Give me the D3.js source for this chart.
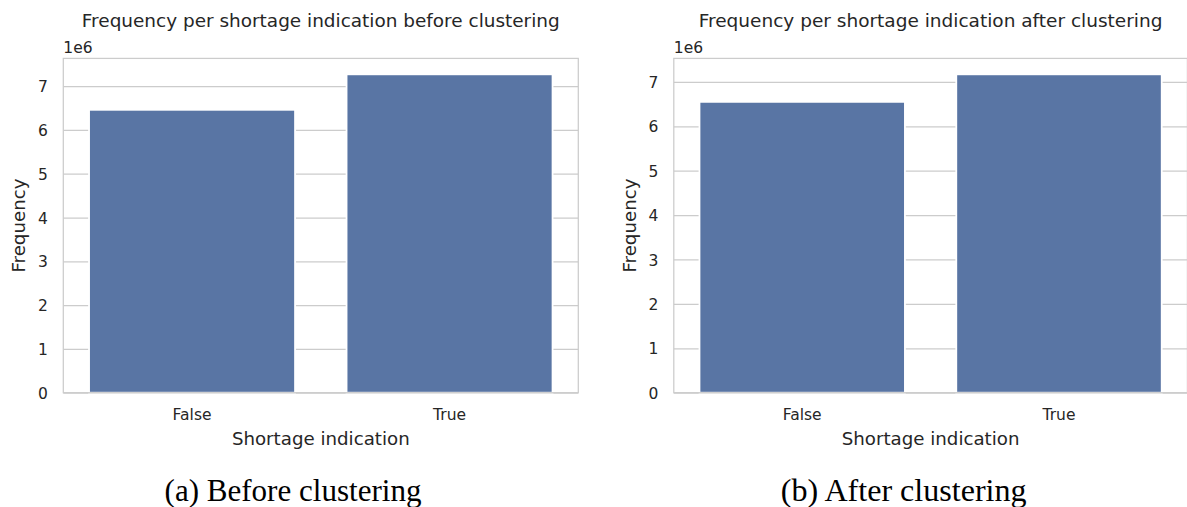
<!DOCTYPE html>
<html>
<head>
<meta charset="utf-8">
<script src="https://cdn.jsdelivr.net/npm/d3@7"></script>
<style>
  html, body { margin: 0; padding: 0; background: #ffffff; }
  svg { display: block; }
</style>
</head>
<body>
<svg id="chart" width="1187" height="507"></svg>
<script>
// ---- data ----
const categories = ["False", "True"];
const beforeValues = [6460000, 7270000];
const afterValues = [6550000, 7170000];
const yTickValues = [0, 1, 2, 3, 4, 5, 6, 7];
const panelTitles = ["Frequency per shortage indication before clustering",
                     "Frequency per shortage indication after clustering"];
const captions = ["(a) Before clustering", "(b) After clustering"];
const xLabel = "Shortage indication";
const yLabel = "Frequency";
const offsetText = "1e6";

// ---- style ----
const TEXT = "#262626";
const GRID = "#cccccc";
const BAR = "#5975a4";
const SANS = "'DejaVu Sans', sans-serif";
const SERIF = "'Liberation Serif', 'Times New Roman', serif";

const svg = d3.select("#chart");

function fitText(sel, target) {
  const base = parseFloat(sel.attr("font-size"));
  const len = sel.node().getComputedTextLength();
  if (len > 0) sel.attr("font-size", (base * target / len).toFixed(2));
}

const panels = [
  { values: beforeValues, x0: 63.3, x1: 578.3, title: panelTitles[0], caption: captions[0],
    titleW: 478, capCx: 293, capW: 257 },
  { values: afterValues, x0: 673.8, x1: 1187.4, title: panelTitles[1], caption: captions[1],
    titleW: 464, capCx: 903.7, capW: 246 }
];

const yTop = 58.4, yBottom = 392.7;

panels.forEach(p => {
  const g = svg.append("g");
  const x = d3.scaleBand().domain(categories).range([p.x0, p.x1])
    .paddingInner(0.2).paddingOuter(0.1);
  const ymax = d3.max(p.values) * 1.05;
  const y = d3.scaleLinear().domain([0, ymax]).range([yBottom, yTop]);
  const cx = (p.x0 + p.x1) / 2;

  // grid + y tick labels
  const yAxis = d3.axisLeft(y).tickValues(yTickValues.map(v => v * 1e6))
    .tickFormat(d => d3.format("d")(d / 1e6))
    .tickSize(-(p.x1 - p.x0)).tickPadding(15.5);
  const ya = g.append("g").attr("transform", `translate(${p.x0},0)`).call(yAxis);
  ya.select(".domain").remove();
  ya.selectAll(".tick line").attr("stroke", GRID).attr("stroke-width", 1.25);
  ya.selectAll(".tick text").attr("fill", TEXT).attr("font-family", SANS)
    .attr("font-size", 15.5).attr("dy", "0.36em");

  // bars
  g.append("g").selectAll("rect").data(categories).join("rect")
    .attr("x", d => x(d))
    .attr("width", x.bandwidth())
    .attr("y", (d, i) => y(p.values[i]))
    .attr("height", (d, i) => y(0) - y(p.values[i]))
    .attr("fill", BAR)
    .attr("stroke", "#ffffff")
    .attr("stroke-width", 1.8);

  // x axis labels
  const xAxis = d3.axisBottom(x).tickSize(0).tickPadding(0);
  const xa = g.append("g").attr("transform", `translate(0,${yBottom})`).call(xAxis);
  xa.select(".domain").remove();
  xa.selectAll(".tick text").attr("fill", TEXT).attr("font-family", SANS)
    .attr("font-size", 15.5).attr("y", 27.3).attr("dy", 0);

  // spines
  g.append("rect").attr("x", p.x0).attr("y", yTop)
    .attr("width", p.x1 - p.x0).attr("height", yBottom - yTop)
    .attr("fill", "none").attr("stroke", GRID).attr("stroke-width", 1.25);

  // offset text
  g.append("text").attr("x", p.x0).attr("y", 53.3)
    .attr("font-family", SANS).attr("font-size", 15.5).attr("fill", TEXT)
    .text(offsetText);

  // title
  const t = g.append("text").attr("x", cx).attr("y", 26.7).attr("text-anchor", "middle")
    .attr("font-family", SANS).attr("font-size", 17).attr("fill", TEXT).text(p.title);
  fitText(t, p.titleW);

  // x label
  const xl = g.append("text").attr("x", cx).attr("y", 445).attr("text-anchor", "middle")
    .attr("font-family", SANS).attr("font-size", 18).attr("fill", TEXT).text(xLabel);
  fitText(xl, 178);

  // y label
  const yl = g.append("text")
    .attr("transform", `translate(${p.x0 - 38.3},${(yTop + yBottom) / 2}) rotate(-90)`)
    .attr("text-anchor", "middle")
    .attr("font-family", SANS).attr("font-size", 18).attr("fill", TEXT).text(yLabel);
  fitText(yl, 94);

  // caption
  const c = g.append("text").attr("x", p.capCx).attr("y", 501).attr("text-anchor", "middle")
    .attr("font-family", SERIF).attr("font-size", 28).attr("fill", "#000000").text(p.caption);
  fitText(c, p.capW);
});
</script>
</body>
</html>
